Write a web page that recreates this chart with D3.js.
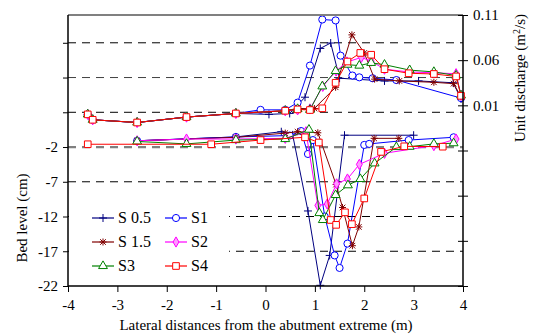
<!DOCTYPE html>
<html><head><meta charset="utf-8">
<script src="https://cdn.jsdelivr.net/npm/d3@7"></script>
<style>body{margin:0;background:#fff}svg{display:block}svg text{font-family:"Liberation Serif","Times New Roman",serif !important}</style>
</head><body><svg id="c" width="534" height="336"></svg>
<script>
// ---- data ----
const seriesNames = ["S 0.5", "S1", "S 1.5", "S2", "S3", "S4"];
const xTicks = [-4, -3, -2, -1, 0, 1, 2, 3, 4];
const bedTicks = [-22, -17, -12, -7, -2, 3, 8, 13];
const bedTickLabels = ["-22", "-17", "-12", "-7", "-2", "", "", ""];
const qTicks = [-0.19, -0.14, -0.09, -0.04, 0.01, 0.06, 0.11];
const qTickLabels = ["", "", "", "", "0.01", "0.06", "0.11"];

// unit discharge (m2/s), [x, q]
const qLeft = [[-3.6, 0.000], [-3.5, -0.006], [-2.6, -0.009], [-1.6, -0.003], [-0.6, 0.001]];
const qS05 = qLeft.concat([[0.07, 0.000], [0.49, 0.001], [0.8, 0.019], [1.11, 0.073], [1.32, 0.079], [1.5, 0.040], [2.41, 0.037], [3.1, 0.037], [3.8, 0.035], [3.96, 0.017]]);
const qS1 = qLeft.concat([[-0.1, 0.005], [0.4, 0.005], [0.65, 0.013], [0.9, 0.054], [1.15, 0.105], [1.42, 0.104], [1.52, 0.065], [1.76, 0.043], [1.9, 0.041], [2.17, 0.040], [2.65, 0.038], [3.96, 0.018]]);
const qS15 = qLeft.concat([[0.4, 0.004], [0.65, 0.0065], [0.99, 0.0065], [1.42, 0.030], [1.75, 0.088], [2.0, 0.068], [2.21, 0.039], [2.71, 0.037], [3.41, 0.0355], [3.81, 0.034], [3.96, 0.0195]]);
const qS2 = qLeft.concat([[0.4, 0.004], [0.65, 0.005], [0.9, 0.006], [1.16, 0.031], [1.43, 0.048], [1.65, 0.058], [1.94, 0.063], [2.14, 0.059], [2.41, 0.050], [2.9, 0.047], [3.41, 0.046], [3.86, 0.045], [3.96, 0.021]]);
const qS3 = qLeft.concat([[0.4, 0.004], [0.65, 0.006], [0.9, 0.005], [1.15, 0.031], [1.42, 0.048], [1.66, 0.055], [1.9, 0.054], [2.14, 0.057], [2.41, 0.055], [2.92, 0.049], [3.41, 0.047], [3.86, 0.043], [3.96, 0.021]]);
const qS4 = qLeft.concat([[0.4, 0.004], [0.65, 0.0055], [0.9, 0.0048], [1.15, 0.0067], [1.42, 0.035], [1.66, 0.0585], [1.92, 0.068], [2.14, 0.066], [2.41, 0.050], [2.9, 0.0455], [3.41, 0.0447], [3.86, 0.042], [3.96, 0.0205]]);

// bed level (cm), [x, level]
const bS05 = [[-2.6, -1.1], [-0.6, -0.55], [0.32, 0.2], [0.55, -0.25], [0.86, -11.2], [1.11, -21.9], [1.3, -17.6], [1.6, -0.3], [3.0, -0.3]];
const bS1 = [[-2.6, -1.1], [-0.6, -0.55], [0.49, -0.35], [0.72, 0.3], [0.86, -3.0], [0.96, -1.0], [1.2, -12.0], [1.4, -17.6], [1.5, -19.4], [1.66, -15.9], [2.0, -1.7], [2.1, -1.55], [2.9, -1.0], [3.81, -0.6]];
const bS15 = [[-2.6, -1.1], [-0.6, -0.6], [0.4, 0.0], [0.65, 0.2], [1.06, 0.05], [1.43, -7.4], [1.56, -10.7], [1.76, -16.2], [1.89, -13.5], [2.2, -0.75], [2.7, -0.75]];
const bS2 = [[-2.6, -1.1], [-1.6, -0.85], [-0.6, -0.85], [0.4, -0.75], [0.82, 0.2], [1.06, -10.4], [1.25, -10.2], [1.44, -7.3], [1.66, -6.6], [1.9, -4.5], [2.41, -2.9], [3.41, -1.8], [3.86, -0.85]];
const bS3 = [[-2.6, -1.2], [-1.6, -1.55], [-0.6, -1.0], [0.4, -0.85], [0.88, 0.5], [1.09, -11.5], [1.16, -12.5], [1.42, -8.9], [1.67, -7.5], [1.92, -6.6], [2.21, -4.35], [2.65, -2.0], [2.92, -1.95], [3.41, -1.55], [3.81, -1.45]];
const bS4 = [[-3.6, -1.6], [-1.1, -1.6], [-0.1, -1.0], [0.8, -0.6], [1.08, -1.35], [1.32, -12.5], [1.43, -13.2], [1.61, -11.4], [1.75, -13.1], [2.0, -9.4], [2.34, -2.7], [2.81, -1.9], [3.59, -1.95]];

const qData = [qS05, qS1, qS15, qS2, qS3, qS4];
const bData = [bS05, bS1, bS15, bS2, bS3, bS4];

// ---- styles ----
const colors = ["#000080", "#0000ff", "#800000", "#ff00ff", "#008000", "#ff0000"];
const markers = ["plus", "circle", "star", "diamond", "triangle", "square"];

const svg = d3.select("#c");
const L = 68, R = 463, T = 15, B = 286;
const x = d3.scaleLinear().domain([-4, 4]).range([L, R]);
const yB = d3.scaleLinear().domain([-22, 17]).range([B, T]);
const yQ = d3.scaleLinear().domain([-0.19, 0.11]).range([B, T]);

// grid lines
const grid = svg.append("g");
bedTicks.filter(v => v > -22).forEach(v => {
  const isMain = v === -2;
  grid.append("line").attr("x1", L).attr("x2", R).attr("y1", yB(v)).attr("y2", yB(v))
    .attr("stroke", isMain ? "#808080" : (v === 8 ? "#404040" : "#000"))
    .attr("stroke-width", isMain ? 2.2 : 1)
    .attr("stroke-dasharray", "8,6");
});

function markerPath(type) {
  if (type === "plus") return "M-4,0H4M0,-4V4";
  if (type === "star") return "M-3.5,0H3.5M0,-3.5V3.5M-2.8,-2.8L2.8,2.8M-2.8,2.8L2.8,-2.8";
  const s = {circle: [d3.symbolCircle, 40], square: [d3.symbolSquare, 44], triangle: [d3.symbolTriangle, 34], diamond: [d3.symbolDiamond, 30]}[type];
  return d3.symbol(s[0], s[1])();
}
function markerFill(type) {
  if (type === "diamond") return "#ff99ff";
  if (type === "plus" || type === "star") return "none";
  return "#fff";
}

const line = (ys) => d3.line().x(d => x(d[0])).y(d => ys(d[1]));
const plot = svg.append("g");
seriesNames.forEach((name, i) => {
  const g = plot.append("g");
  [[bData[i], yB], [qData[i], yQ]].forEach(([data, ys]) => {
    g.append("path").datum(data).attr("d", line(ys)).attr("fill", "none")
      .attr("stroke", colors[i]).attr("stroke-width", 1);
    g.selectAll(null).data(data).enter().append("path")
      .attr("transform", d => `translate(${x(d[0])},${ys(d[1])})`)
      .attr("d", markerPath(markers[i]))
      .attr("fill", markerFill(markers[i]))
      .attr("stroke", colors[i]).attr("stroke-width", 1);
  });
});

// frame
svg.append("line").attr("x1", L).attr("x2", R).attr("y1", T).attr("y2", T).attr("stroke", "#808080").attr("stroke-width", 2);

// axes
const fs = "15px";
const ax = svg.append("g").attr("transform", `translate(0,${B})`)
  .call(d3.axisBottom(x).tickValues(xTicks).tickSize(6).tickPadding(7).tickFormat(d => String(d)));
const ayl = svg.append("g").attr("transform", `translate(${L},0)`)
  .call(d3.axisLeft(yB).tickValues(bedTicks).tickSize(5).tickPadding(5).tickFormat((d, i) => bedTickLabels[i]));
const ayr = svg.append("g").attr("transform", `translate(${R},0)`)
  .call(d3.axisRight(yQ).tickValues(qTicks).tickSize(5).tickPadding(5).tickFormat((d, i) => qTickLabels[i]));
ayr.selectAll(".tick").append("line").attr("x1", -5).attr("x2", 0).attr("stroke", "#000");
[ax, ayl, ayr].forEach(a => {
  a.attr("font-family", null);
  a.selectAll("text").attr("font-size", fs).attr("fill", "#000");
  a.selectAll("line").attr("stroke", "#000");
  a.select(".domain").attr("stroke", "#000").attr("stroke-width", 1.5);
});
ayl.select(".domain").attr("d", `M0,${T}V${B}`);
ayr.select(".domain").attr("d", `M0,${T}V${B}`);
ax.select(".domain").attr("d", `M${L},0H${R}`);

// titles
svg.append("text").attr("x", 266).attr("y", 330).attr("text-anchor", "middle").attr("font-size", fs)
  .text("Lateral distances from the abutment extreme (m)");
svg.append("text").attr("transform", "translate(27,218) rotate(-90)").attr("text-anchor", "middle").attr("font-size", fs)
  .text("Bed level (cm)");
const rt = svg.append("text").attr("transform", "translate(525,78) rotate(-90)").attr("text-anchor", "middle").attr("font-size", fs);
rt.append("tspan").text("Unit discharge (m");
rt.append("tspan").attr("baseline-shift", "super").attr("font-size", "10px").text("2");
rt.append("tspan").text("/s)");

// legend
const lg = svg.append("g");
lg.append("rect").attr("x", L + 1).attr("y", 196).attr("width", 160).attr("height", 88).attr("fill", "#fff");
const legPos = [[0, 0], [1, 0], [0, 1], [1, 1], [0, 2], [1, 2]];
seriesNames.forEach((name, i) => {
  const cx = 92 + legPos[i][0] * 73, cy = 218 + legPos[i][1] * 24;
  lg.append("line").attr("x1", cx).attr("x2", cx + 22).attr("y1", cy).attr("y2", cy).attr("stroke", colors[i]).attr("stroke-width", 1.2);
  lg.append("path").attr("transform", `translate(${cx + 11},${cy})`).attr("d", markerPath(markers[i]))
    .attr("fill", markerFill(markers[i])).attr("stroke", colors[i]);
  lg.append("text").attr("x", cx + 26).attr("y", cy + 5).attr("font-size", "16px").text(name);
});
</script></body></html>
